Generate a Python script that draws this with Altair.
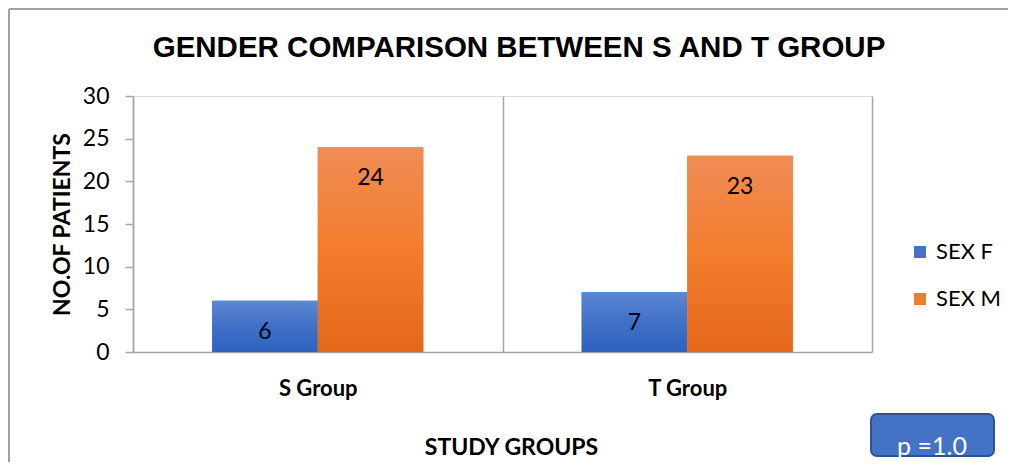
import altair as alt
import pandas as pd

# ---- data ----
groups = ["S Group", "T Group"]
series = ["SEX F", "SEX M"]
sex_f = [6, 7]
sex_m = [24, 23]
y_ticks = [0, 5, 10, 15, 20, 25, 30]
series_colors = ["#4472C4", "#ED7D31"]
p_text = "p =1.0"
title_text = "GENDER COMPARISON BETWEEN S AND T GROUP"

rows = []
for g, f, m in zip(groups, sex_f, sex_m):
    rows.append({"group": g, "sex": series[0], "count": f})
    rows.append({"group": g, "sex": series[1], "count": m})
df = pd.DataFrame(rows)
one = pd.DataFrame({"k": [0]})

FONT = "Lato"
GRID = "#A6A6A6"

x_enc = alt.X(
    "group:N", sort=groups,
    scale=alt.Scale(paddingInner=0, paddingOuter=0),
    axis=alt.Axis(
        title="STUDY GROUPS", labelAngle=0, labelFont=FONT, labelFontSize=22,
        labelFontWeight="bold", labelColor="#000", labelPadding=26,
        ticks=False, tickBand="extent", grid=True, gridColor=GRID, gridWidth=1.5,
        domainColor=GRID, domainWidth=1.5,
        titleFont=FONT, titleFontSize=23, titleFontWeight="bold", titleColor="#000",
        titleX=378, titleY=102, titleBaseline="alphabetic",
    ),
)
xoff = alt.XOffset("sex:N", sort=series, scale=alt.Scale(paddingInner=0, paddingOuter=0.75))
y_enc = alt.Y(
    "count:Q",
    scale=alt.Scale(domain=[0, 30], nice=False),
    axis=alt.Axis(
        values=y_ticks, title="NO.OF PATIENTS", titleFont=FONT, titleFontSize=23,
        titleFontWeight="bold", titleColor="#000", titlePadding=8,
        labelFont=FONT, labelFontSize=23, labelColor="#000", labelPadding=16,
        tickSize=8, tickColor=GRID, tickWidth=1.5, domainColor=GRID, domainWidth=1.5,
        grid=False,
    ),
)

base = alt.Chart(df).encode(x=x_enc, xOffset=xoff, y=y_enc)

legend_bars = base.mark_bar().encode(
    color=alt.Color(
        "sex:N", sort=series,
        scale=alt.Scale(domain=series, range=series_colors),
        legend=alt.Legend(
            title=None, orient="none", legendX=776, legendY=145, symbolType="square",
            symbolSize=144, symbolStrokeWidth=0, labelFont=FONT, labelFontSize=22,
            labelColor="#000", labelOffset=5, rowPadding=25, padding=0,
        ),
    )
)


def grad(top, mid, bottom):
    return alt.Gradient(
        gradient="linear", x1=0, x2=0, y1=0, y2=1,
        stops=[alt.GradientStop(color=top, offset=0),
               alt.GradientStop(color=mid, offset=0.5),
               alt.GradientStop(color=bottom, offset=1)],
    )


bars_f = base.transform_filter(alt.datum.sex == series[0]).mark_bar(
    color=grad("#5B87D2", "#4070C8", "#2E62BF"))
bars_m = base.transform_filter(alt.datum.sex == series[1]).mark_bar(
    color=grad("#F08C55", "#F37D2C", "#E4681A"))

labels = base.mark_text(dy=31, baseline="middle", font=FONT, fontSize=23, color="#000").encode(
    text="count:Q")

border_left = alt.Chart(one).mark_rule(color="#A0A0A0", strokeWidth=2).encode(
    x=alt.value(-124), y=alt.value(-87), y2=alt.value(366))
border_top = alt.Chart(one).mark_rule(color="#A0A0A0", strokeWidth=2).encode(
    x=alt.value(-124), x2=alt.value(875), y=alt.value(-87))

title = alt.Chart(one).mark_text(
    text=title_text, font="Liberation Sans", fontSize=29.5, fontWeight="bold",
    color="#000", align="center", baseline="alphabetic").encode(
    x=alt.value(386), y=alt.value(-39))

pbox = alt.Chart(one).mark_rect(cornerRadius=6, fill="#4472C4", stroke="#2F528F", strokeWidth=2).encode(
    x=alt.value(738), x2=alt.value(861), y=alt.value(318), y2=alt.value(360))
ptext = alt.Chart(one).mark_text(text=p_text, font=FONT, fontSize=25, color="white",
                                 align="center", baseline="alphabetic").encode(
    x=alt.value(799), y=alt.value(359))

chart = alt.layer(
    border_left, border_top, title, legend_bars, bars_f, bars_m, labels, pbox, ptext
).properties(
    width=739, height=256,
    autosize=alt.AutoSizeParams(type="none"),
    padding={"left": 125, "top": 88, "right": 136, "bottom": 110},
).configure_view(stroke=None).configure(background="white")

chart.save("out.html", embed_options={"renderer": "svg", "actions": False})
